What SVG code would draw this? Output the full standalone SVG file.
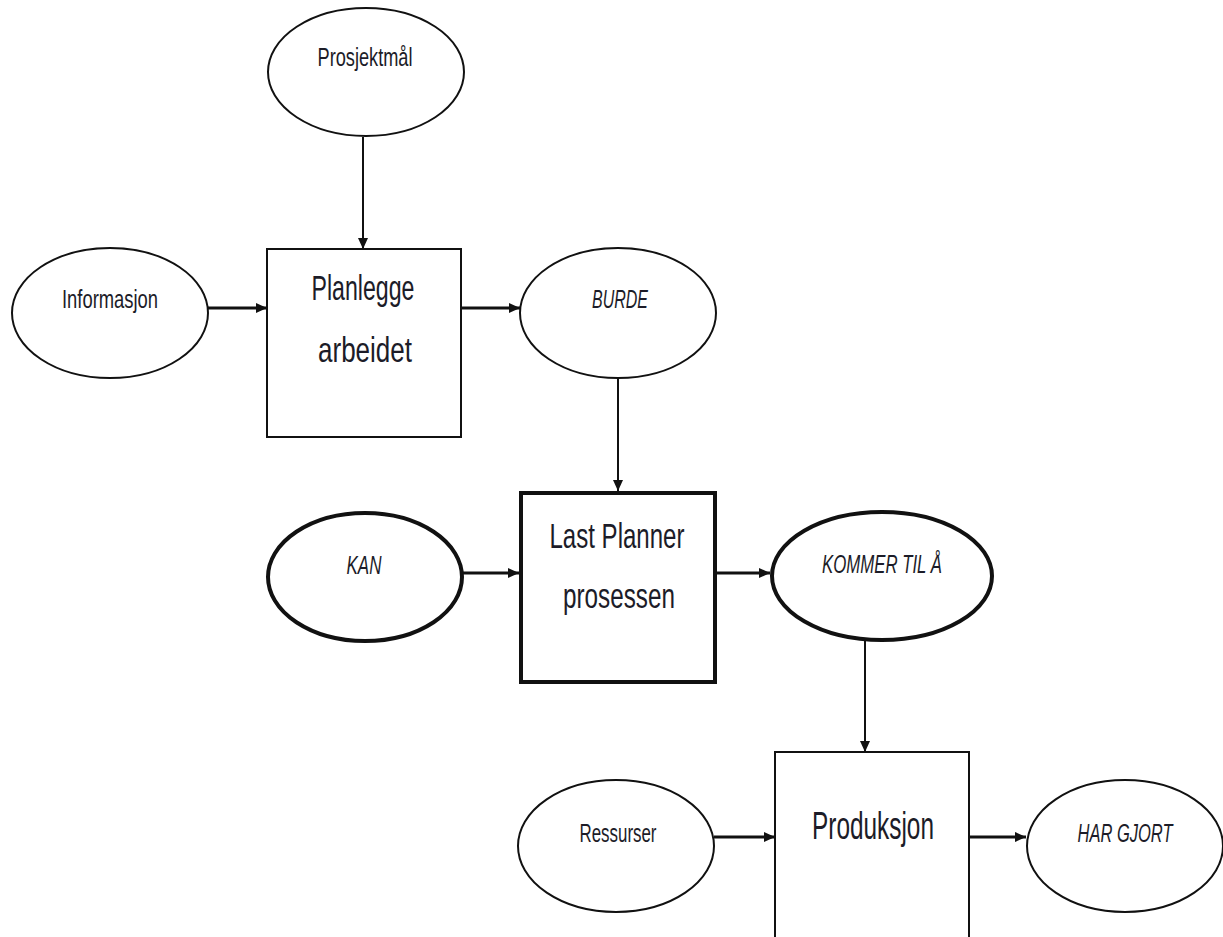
<svg xmlns="http://www.w3.org/2000/svg" width="1223" height="937" viewBox="0 0 1223 937">
<defs>
<style>
.n{fill:#fff;stroke:#111;stroke-width:2}
.b{fill:#fff;stroke:#111;stroke-width:4}
.t{font-family:"Liberation Sans",Arial,sans-serif;fill:#1c1c28;text-anchor:middle}
.s{font-size:25px}
.l{font-size:35px}
.i{font-style:italic}
.c{stroke:#111;fill:none}
.v{stroke-width:2}
.h{stroke-width:3}
</style>
<marker id="ah" markerUnits="userSpaceOnUse" markerWidth="12" markerHeight="10" refX="11" refY="5" orient="auto">
<path d="M0,0 L11,5 L0,10 Z" fill="#111"/>
</marker>
</defs>
<rect width="1223" height="937" fill="#fff"/>
<g id="connectors">
<line class="c v" x1="363" y1="137" x2="363" y2="249" marker-end="url(#ah)"/>
<line class="c h" x1="207" y1="308" x2="267" y2="308" marker-end="url(#ah)"/>
<line class="c h" x1="461" y1="308" x2="520" y2="308" marker-end="url(#ah)"/>
<line class="c v" x1="618" y1="378" x2="618" y2="491" marker-end="url(#ah)"/>
<line class="c h" x1="462" y1="573" x2="519" y2="573" marker-end="url(#ah)"/>
<line class="c h" x1="717" y1="573" x2="770" y2="573" marker-end="url(#ah)"/>
<line class="c v" x1="865" y1="640" x2="865" y2="752" marker-end="url(#ah)"/>
<line class="c h" x1="714" y1="837" x2="775" y2="837" marker-end="url(#ah)"/>
<line class="c h" x1="969" y1="837" x2="1026" y2="837" marker-end="url(#ah)"/>
</g>
<g id="prosjektmal">
<ellipse class="n" cx="366" cy="72" rx="98" ry="64"/>
<text class="t s" x="365" y="66" textLength="95" lengthAdjust="spacingAndGlyphs">Prosjektmål</text>
</g>
<g id="informasjon">
<ellipse class="n" cx="110" cy="313" rx="98" ry="65"/>
<text class="t s" x="110" y="308" textLength="96" lengthAdjust="spacingAndGlyphs">Informasjon</text>
</g>
<g id="planlegge">
<rect class="n" x="267" y="249" width="194" height="188"/>
<text class="t l" x="363" y="300" textLength="103" lengthAdjust="spacingAndGlyphs">Planlegge</text>
<text class="t l" x="365" y="362" textLength="94" lengthAdjust="spacingAndGlyphs">arbeidet</text>
</g>
<g id="burde">
<ellipse class="n" cx="618" cy="313" rx="98" ry="65"/>
<text class="t s i" x="620" y="308" textLength="56" lengthAdjust="spacingAndGlyphs">BURDE</text>
</g>
<g id="kan">
<ellipse class="b" cx="365" cy="577" rx="97" ry="64"/>
<text class="t s i" x="364" y="574" textLength="35" lengthAdjust="spacingAndGlyphs">KAN</text>
</g>
<g id="lastplanner">
<rect class="b" x="521" y="493" width="194" height="189"/>
<text class="t l" x="617" y="548" textLength="135" lengthAdjust="spacingAndGlyphs">Last Planner</text>
<text class="t l" x="619" y="608" textLength="112" lengthAdjust="spacingAndGlyphs">prosessen</text>
</g>
<g id="kommer">
<ellipse class="b" cx="882" cy="576" rx="110" ry="64"/>
<text class="t s i" x="882" y="573" textLength="120" lengthAdjust="spacingAndGlyphs">KOMMER TIL Å</text>
</g>
<g id="ressurser">
<ellipse class="n" cx="616" cy="846" rx="98" ry="66"/>
<text class="t s" x="618" y="842" textLength="77" lengthAdjust="spacingAndGlyphs">Ressurser</text>
</g>
<g id="produksjon">
<rect class="n" x="775" y="752" width="194" height="200"/>
<text class="t" style="font-size:38px" x="873" y="839" textLength="122" lengthAdjust="spacingAndGlyphs">Produksjon</text>
</g>
<g id="hargjort">
<ellipse class="n" cx="1125" cy="846" rx="98" ry="66"/>
<text class="t s i" x="1125" y="842" textLength="95" lengthAdjust="spacingAndGlyphs">HAR GJORT</text>
</g>
</svg>
